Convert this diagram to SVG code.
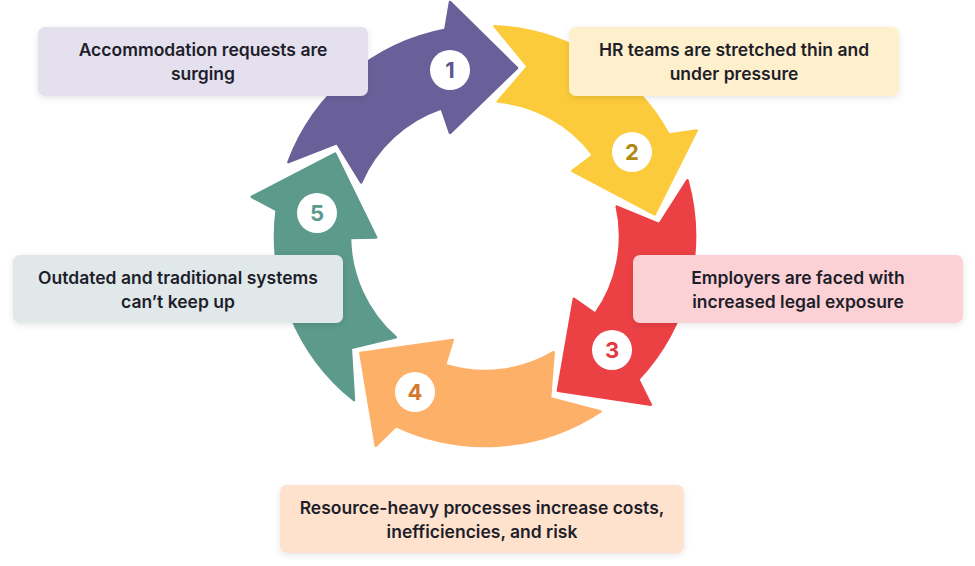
<svg xmlns="http://www.w3.org/2000/svg" width="975" height="566" viewBox="0 0 975 566">
  <defs>
    <filter id="shadow" x="-10%" y="-20%" width="120%" height="150%">
      <feDropShadow dx="0" dy="2" stdDeviation="3" flood-color="#000" flood-opacity="0.10"/>
    </filter>
    <path id="arrow" d="M288.4,162.1 A210,210 0 0 1 445.3,29.8 L450,2 L517,68 L450,133 L441.5,108.2 A135,135 0 0 0 361.1,182.4 L337,143 Z"/>
  </defs>
  <style>
    .lbl { font-family: Inter, "Noto Sans", "Liberation Sans", sans-serif; font-size: 17.5px; font-weight: 600; fill: #1e1e2a; text-anchor: middle; }
    .num { font-family: Inter, "Noto Sans", "Liberation Sans", sans-serif; font-size: 22px; font-weight: 700; text-anchor: middle; }
    .box { filter: url(#shadow); }
    .arr { stroke-width: 2.5; stroke-linejoin: round; }
  </style>
  <rect width="975" height="566" fill="#ffffff"/>

  <g id="connectors">
    <use href="#arrow" class="arr" fill="#6a6099" stroke="#6a6099"/>
    <use href="#arrow" class="arr" fill="#fccb3b" stroke="#fccb3b" transform="rotate(72 485 236)"/>
    <use href="#arrow" class="arr" fill="#eb4144" stroke="#eb4144" transform="rotate(144 485 236)"/>
    <use href="#arrow" class="arr" fill="#fdb068" stroke="#fdb068" transform="rotate(216 485 236)"/>
    <use href="#arrow" class="arr" fill="#5c9a8b" stroke="#5c9a8b" transform="rotate(288 485 236)"/>
  </g>

  <g id="step1">
    <circle cx="450" cy="70" r="20" fill="#ffffff"/>
    <text class="num" x="450" y="78" fill="#5e5490">1</text>
    <rect class="box" x="38" y="27" width="330" height="69" rx="7" fill="#e4e0ee"/>
    <text class="lbl" x="203" y="56">Accommodation requests are</text>
    <text class="lbl" x="203" y="80">surging</text>
  </g>

  <g id="step2">
    <circle cx="632" cy="152" r="20" fill="#ffffff"/>
    <text class="num" x="632" y="160" fill="#b08a10">2</text>
    <rect class="box" x="569" y="27" width="330" height="69" rx="7" fill="#fef0cc"/>
    <text class="lbl" x="734" y="56">HR teams are stretched thin and</text>
    <text class="lbl" x="734" y="80">under pressure</text>
  </g>

  <g id="step3">
    <circle cx="612" cy="350" r="20" fill="#ffffff"/>
    <text class="num" x="612" y="358" fill="#e23a3e">3</text>
    <rect class="box" x="633" y="255" width="330" height="68" rx="7" fill="#fbd1d5"/>
    <text class="lbl" x="798" y="283.5">Employers are faced with</text>
    <text class="lbl" x="798" y="307.5">increased legal exposure</text>
  </g>

  <g id="step4">
    <circle cx="415" cy="392" r="20" fill="#ffffff"/>
    <text class="num" x="415" y="400" fill="#d4792c">4</text>
    <rect class="box" x="280" y="485" width="404" height="68" rx="7" fill="#fee2cd"/>
    <text class="lbl" x="482" y="513.5">Resource-heavy processes increase costs,</text>
    <text class="lbl" x="482" y="537.5">inefficiencies, and risk</text>
  </g>

  <g id="step5">
    <circle cx="317" cy="213" r="20" fill="#ffffff"/>
    <text class="num" x="317" y="221" fill="#5c9a8b">5</text>
    <rect class="box" x="13" y="255" width="330" height="68" rx="7" fill="#e1e8ea"/>
    <text class="lbl" x="178" y="283.5">Outdated and traditional systems</text>
    <text class="lbl" x="178" y="307.5">can’t keep up</text>
  </g>
</svg>
